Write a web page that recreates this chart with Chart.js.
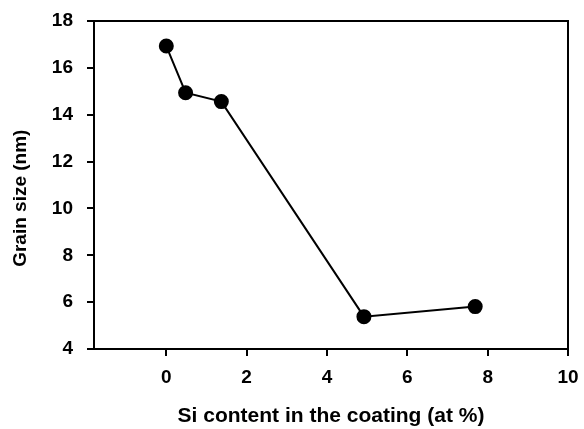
<!DOCTYPE html>
<html>
<head>
<meta charset="utf-8">
<script src="https://cdn.jsdelivr.net/npm/chart.js@4.4.1/dist/chart.umd.min.js"></script>
<style>
  html, body { margin: 0; padding: 0; background: #fff; }
  #wrap { width: 584px; height: 429px; }
</style>
</head>
<body>
<div id="wrap"><canvas id="myChart" width="584" height="429"></canvas></div>
<script>
// data
var siContent = [0, 0.48, 1.37, 4.92, 7.69];
var grainSize = [16.93, 14.94, 14.56, 5.38, 5.81];
var xTicks = [0, 2, 4, 6, 8, 10];
var yTicks = [4, 6, 8, 10, 12, 14, 16, 18];

var points = [];
for (var i = 0; i < siContent.length; i += 1) {
  points.push({ x: siContent[i], y: grainSize[i] });
}

var fam = "'Liberation Sans', Arial, sans-serif";
var fontTick = { family: fam, size: 19, weight: 'bold' };

// top + right frame lines
var frame = {
  id: 'frame',
  afterDraw: function (chart) {
    var a = chart.chartArea, c = chart.ctx;
    c.save();
    c.strokeStyle = '#000';
    c.lineWidth = 2;
    c.beginPath();
    c.moveTo(a.left, a.top);
    c.lineTo(a.right, a.top);
    c.lineTo(a.right, a.bottom);
    c.stroke();
    c.restore();
  }
};

var ctx = document.getElementById('myChart');
var myChart = new Chart(ctx, {
  type: 'scatter',
  data: {
    datasets: [{
      data: points,
      showLine: true,
      borderColor: '#000',
      borderWidth: 2,
      backgroundColor: '#000',
      pointRadius: 6.5,
      pointHoverRadius: 6.5
    }]
  },
  options: {
    responsive: false,
    animation: false,
    plugins: { legend: { display: false }, tooltip: { enabled: false } },
    layout: { padding: { top: 21, right: 16, left: 0, bottom: 0 } },
    scales: {
      x: {
        type: 'linear',
        min: -1.8,
        max: 10,
        afterBuildTicks: function (axis) {
          axis.ticks = xTicks.map(function (v) { return { value: v }; });
        },
        afterFit: function (axis) {
          axis.height = 80;
          axis.paddingLeft = 0;
          axis.paddingRight = 0;
        },
        grid: { drawOnChartArea: false, color: '#000', lineWidth: 2, tickLength: 7, tickWidth: 2 },
        border: { color: '#000', width: 2 },
        ticks: { color: '#000', font: fontTick, padding: 10, maxRotation: 0 },
        title: {
          display: true,
          text: 'Si content in the coating (at %)',
          color: '#000',
          font: { family: fam, size: 21, weight: 'bold' },
          padding: { top: 0, bottom: 0 }
        }
      },
      y: {
        type: 'linear',
        min: 4,
        max: 18,
        afterBuildTicks: function (axis) {
          axis.ticks = yTicks.map(function (v) { return { value: v }; });
        },
        afterFit: function (axis) {
          axis.width = 94;
          axis.paddingTop = 0;
          axis.paddingBottom = 0;
        },
        grid: { drawOnChartArea: false, color: '#000', lineWidth: 2, tickLength: 7, tickWidth: 2 },
        border: { color: '#000', width: 2 },
        ticks: { color: '#000', font: fontTick, padding: 14 },
        title: {
          display: true,
          // trailing spaces push the title a little lower, as in the original
          text: 'Grain size (nm)     ',
          color: '#000',
          font: { family: fam, size: 19, weight: 'bold' },
          padding: { top: 9, bottom: 9 }
        }
      }
    }
  },
  plugins: [frame]
});
</script>
</body>
</html>
